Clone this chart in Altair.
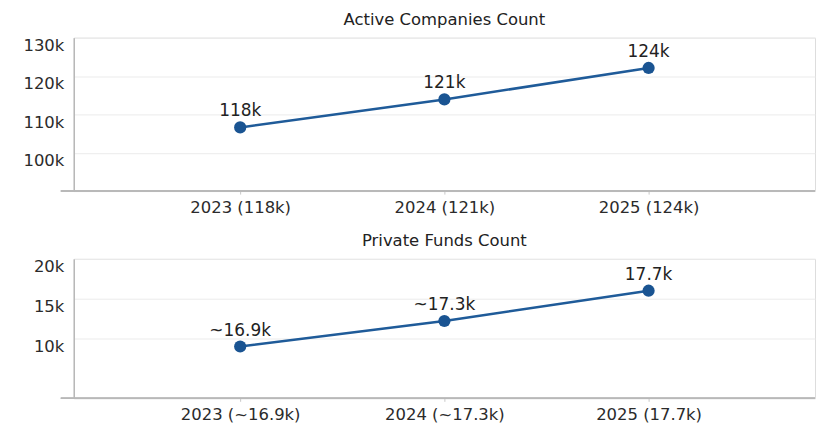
import altair as alt
import pandas as pd

years = ["2023", "2024", "2025"]
companies_axis = ["2023 (118k)", "2024 (121k)", "2025 (124k)"]
companies_labels = ["118k", "121k", "124k"]
companies_plotted = [106600, 113900, 122100]

funds_axis = ["2023 (~16.9k)", "2024 (~17.3k)", "2025 (17.7k)"]
funds_labels = ["~16.9k", "~17.3k", "17.7k"]
funds_plotted = [9000, 12200, 16000]

FONT = "DejaVu Sans"
W = 744
LINE = "#1f5b99"


def panel(axis_labels, labels, values, title, domain, ticks, h):
    df = pd.DataFrame({"cat": axis_labels, "label": labels, "value": values})
    base = alt.Chart(df)
    x = alt.X(
        "cat:N",
        sort=None,
        scale=alt.Scale(type="point", padding=0.815),
        axis=alt.Axis(
            title=None, labelAngle=0, grid=False, domain=False, ticks=True,
            tickColor="#c8c8c8", tickSize=3, labelPadding=5,
            labelFont=FONT, labelFontSize=16.5, labelColor="#2b2b2b",
        ),
    )
    y = alt.Y(
        "value:Q",
        scale=alt.Scale(domain=domain, nice=False, zero=False),
        axis=alt.Axis(
            title=None, values=ticks,
            labelExpr="format(datum.value/1000, 'd') + 'k'",
            grid=True, gridColor="#ebebeb", gridWidth=1,
            domain=True, domainColor="#b8b8b8", domainWidth=1.5,
            ticks=False, minExtent=65, labelPadding=10,
            labelBaseline="top",
            labelFont=FONT, labelFontSize=16.5, labelColor="#2b2b2b",
        ),
    )
    line = base.mark_line(color=LINE, strokeWidth=2.5).encode(x=x, y=y)
    pts = base.mark_circle(color="#1a5492", opacity=1, size=150).encode(x=x, y=y)
    txt = base.mark_text(
        font=FONT, fontSize=17, color="#222222", dy=-11, baseline="alphabetic"
    ).encode(x=x, y=y, text="label:N")
    baseline_rule = base.mark_rule(color="#b8b8b8", strokeWidth=1.5).encode(
        x=alt.value(-13), x2=alt.value(W), y=alt.value(h)
    )
    return alt.layer(baseline_rule, line, pts, txt).properties(
        width=W, height=h,
        title=alt.TitleParams(
            title, font=FONT, fontSize=16.5, fontWeight="normal", color="#222222",
            anchor="middle", offset=9,
        ),
    )


p1 = panel(companies_axis, companies_labels, companies_plotted,
           "Active Companies Count", [90000, 130000],
           [100000, 110000, 120000, 130000], 154)
p2 = panel(funds_axis, funds_labels, funds_plotted,
           "Private Funds Count", [2500, 20000],
           [10000, 15000, 20000], 140)

chart = alt.vconcat(p1, p2, spacing=17).properties(
    padding={"left": 0, "top": 3, "right": 0, "bottom": 0}
).configure_view(stroke=None).configure(background="white")

chart.save("out.html", embed_options={"renderer": "svg", "actions": False})
